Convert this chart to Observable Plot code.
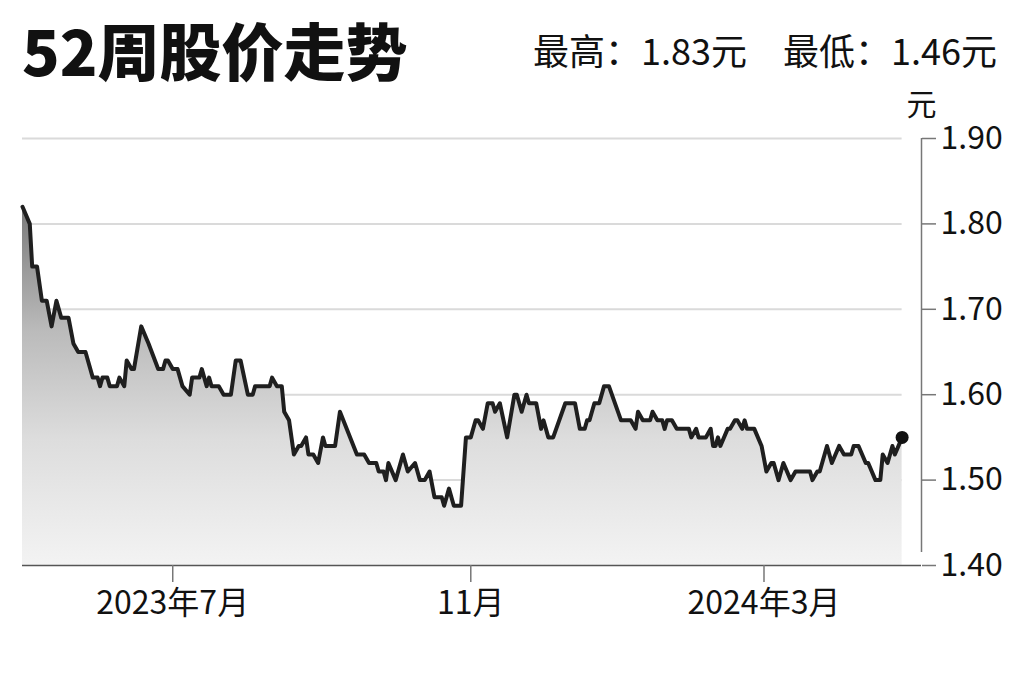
<!DOCTYPE html>
<html><head><meta charset="utf-8">
<script src="https://cdn.jsdelivr.net/npm/d3@7"></script>
<script src="https://cdn.jsdelivr.net/npm/@observablehq/plot@0.6"></script>
<style>
body{margin:0;background:#fff;font-family:"Noto Sans CJK SC",sans-serif;color:#111;}
#head{position:relative;height:90px;width:1024px;}
#title{position:absolute;left:22px;top:13px;font-size:62px;font-weight:900;line-height:72px;white-space:nowrap;}
#stats{position:absolute;right:27px;top:24px;font-size:36px;line-height:50px;white-space:nowrap;}
#stats span+span{margin-left:36px;}
</style></head><body>
<div id="head"><div id="title"></div><div id="stats"></div></div>
<div id="chart"></div>
<script>
const titleText = "52周股价走势";
const statLabels = ["最高：", "最低："];
const statValues = [1.83, 1.46];
const unit = "元";

const dates = ["2023-04-30","2023-05-03","2023-05-04","2023-05-06","2023-05-08","2023-05-10","2023-05-12","2023-05-14","2023-05-16","2023-05-19","2023-05-21","2023-05-23","2023-05-26","2023-05-29","2023-05-31","2023-06-01","2023-06-02","2023-06-04","2023-06-05","2023-06-08","2023-06-09","2023-06-11","2023-06-12","2023-06-14","2023-06-15","2023-06-18","2023-06-21","2023-06-25","2023-06-27","2023-06-28","2023-06-29","2023-07-01","2023-07-03","2023-07-05","2023-07-08","2023-07-09","2023-07-12","2023-07-13","2023-07-15","2023-07-16","2023-07-17","2023-07-20","2023-07-22","2023-07-25","2023-07-27","2023-07-29","2023-08-01","2023-08-03","2023-08-04","2023-08-10","2023-08-11","2023-08-13","2023-08-15","2023-08-16","2023-08-18","2023-08-20","2023-08-22","2023-08-23","2023-08-25","2023-08-26","2023-08-28","2023-08-30","2023-09-01","2023-09-02","2023-09-06","2023-09-08","2023-09-15","2023-09-18","2023-09-20","2023-09-23","2023-09-24","2023-09-26","2023-09-27","2023-09-28","2023-10-01","2023-10-04","2023-10-06","2023-10-09","2023-10-11","2023-10-13","2023-10-15","2023-10-17","2023-10-20","2023-10-21","2023-10-23","2023-10-25","2023-10-28","2023-10-30","2023-11-01","2023-11-03","2023-11-04","2023-11-06","2023-11-08","2023-11-10","2023-11-11","2023-11-13","2023-11-16","2023-11-19","2023-11-20","2023-11-22","2023-11-24","2023-11-25","2023-11-28","2023-11-30","2023-12-01","2023-12-03","2023-12-05","2023-12-10","2023-12-14","2023-12-16","2023-12-18","2023-12-19","2023-12-20","2023-12-22","2023-12-24","2023-12-26","2023-12-28","2024-01-02","2024-01-06","2024-01-08","2024-01-09","2024-01-11","2024-01-14","2024-01-15","2024-01-17","2024-01-19","2024-01-20","2024-01-21","2024-01-23","2024-01-25","2024-01-30","2024-01-31","2024-02-02","2024-02-03","2024-02-06","2024-02-08","2024-02-09","2024-02-10","2024-02-11","2024-02-12","2024-02-15","2024-02-16","2024-02-18","2024-02-19","2024-02-21","2024-02-22","2024-02-23","2024-02-26","2024-02-29","2024-03-02","2024-03-04","2024-03-05","2024-03-07","2024-03-09","2024-03-12","2024-03-14","2024-03-20","2024-03-21","2024-03-23","2024-03-24","2024-03-27","2024-03-29","2024-04-01","2024-04-03","2024-04-06","2024-04-07","2024-04-09","2024-04-12","2024-04-13","2024-04-16","2024-04-18","2024-04-19","2024-04-21","2024-04-23","2024-04-24","2024-04-27"];
const prices = [1.82,1.80,1.75,1.75,1.71,1.71,1.68,1.71,1.69,1.69,1.66,1.65,1.65,1.62,1.62,1.61,1.62,1.62,1.61,1.61,1.62,1.61,1.64,1.63,1.63,1.68,1.66,1.63,1.63,1.64,1.64,1.63,1.63,1.61,1.60,1.62,1.62,1.63,1.61,1.62,1.61,1.61,1.60,1.60,1.64,1.64,1.60,1.60,1.61,1.61,1.62,1.61,1.61,1.58,1.57,1.53,1.54,1.54,1.55,1.53,1.53,1.52,1.55,1.54,1.54,1.58,1.53,1.53,1.52,1.52,1.51,1.51,1.50,1.52,1.50,1.53,1.51,1.52,1.50,1.50,1.51,1.48,1.48,1.47,1.49,1.47,1.47,1.55,1.55,1.57,1.57,1.56,1.59,1.59,1.58,1.59,1.55,1.60,1.60,1.58,1.60,1.59,1.59,1.56,1.57,1.55,1.55,1.59,1.59,1.56,1.56,1.57,1.57,1.59,1.59,1.61,1.61,1.57,1.57,1.56,1.58,1.57,1.57,1.58,1.57,1.57,1.56,1.57,1.57,1.56,1.56,1.55,1.56,1.55,1.55,1.56,1.54,1.54,1.55,1.54,1.56,1.56,1.57,1.57,1.56,1.57,1.56,1.56,1.54,1.51,1.52,1.52,1.50,1.52,1.50,1.51,1.51,1.50,1.51,1.51,1.54,1.52,1.54,1.53,1.53,1.54,1.54,1.52,1.52,1.50,1.50,1.53,1.52,1.54,1.53,1.55];

const xDomainDates = ["2023-04-30", "2024-05-05"];
const xTickDates = ["2023-07-01", "2023-11-01", "2024-03-01"];
const xTickLabels = ["2023年7月", "11月", "2024年3月"];
const yTicks = [1.40, 1.50, 1.60, 1.70, 1.80, 1.90];

document.getElementById("title").textContent = titleText;
document.getElementById("stats").innerHTML = statLabels.map((l, i) => `<span>${l}${statValues[i].toFixed(2)}${unit}</span>`).join("");

const parse = d3.utcParse("%Y-%m-%d");
const data = dates.map((d, i) => ({date: parse(d), price: prices[i]}));
const xDomain = xDomainDates.map(parse);
const xTicks = xTickDates.map(parse);
const labelMap = new Map(xTicks.map((t, i) => [+t, xTickLabels[i]]));
const first = data[0].date, last = data[data.length - 1].date;

const plot = Plot.plot({
  width: 1024, height: 592,
  marginLeft: 22, marginRight: 103, marginTop: 48, marginBottom: 117,
  style: {fontFamily: '"Noto Sans CJK SC", sans-serif', fontSize: "32px", color: "#111", background: "#fff", overflow: "visible"},
  x: {type: "utc", domain: xDomain},
  y: {domain: [yTicks[0], yTicks[yTicks.length - 1]]},
  marks: [
    Plot.ruleY(yTicks.slice(1), {x1: first, x2: last, stroke: "#dadada", strokeWidth: 2}),
    Plot.areaY(data, {x: "date", y1: yTicks[0], y2: "price", fill: "url(#areaGrad)"}),
    Plot.lineY(data, {x: "date", y: "price", stroke: "#1f1f1f", strokeWidth: 4, strokeLinejoin: "round", strokeLinecap: "round"}),
    Plot.dot(data.slice(-1), {x: "date", y: "price", r: 6.5, fill: "#111", stroke: "none"}),
    Plot.ruleY([yTicks[0]], {x1: xDomain[0], x2: xDomain[1], stroke: "#555", strokeWidth: 1.5}),
    Plot.ruleX([xDomain[1]], {y1: yTicks[0], y2: yTicks[yTicks.length - 1], insetTop: -13, stroke: "#777", strokeWidth: 1.5}),
    Plot.axisY({anchor: "right", ticks: yTicks, tickFormat: d3.format(".2f"), tickSize: 14, tickPadding: 5, label: null, stroke: "#777", strokeWidth: 1.5}),
    Plot.axisX({ticks: xTicks, tickFormat: d => labelMap.get(+d), tickSize: 17, tickPadding: 9, label: null, stroke: "#777", strokeWidth: 1.5}),
    Plot.text([unit], {frameAnchor: "top-right", dy: -33, text: d => d, textAnchor: "middle", lineAnchor: "middle", fontSize: 30, fill: "#111"})
  ]
});
d3.select(plot).insert("defs", ":first-child").html(
  '<linearGradient id="areaGrad" x1="0" y1="0" x2="0" y2="1">' +
  '<stop offset="0" stop-color="#7a7a7a"/>' +
  '<stop offset="0.35" stop-color="#bbbbbb"/>' +
  '<stop offset="0.65" stop-color="#dddddd"/>' +
  '<stop offset="1" stop-color="#f3f3f3"/>' +
  '</linearGradient>');
document.getElementById("chart").appendChild(plot);
</script>
</body></html>
